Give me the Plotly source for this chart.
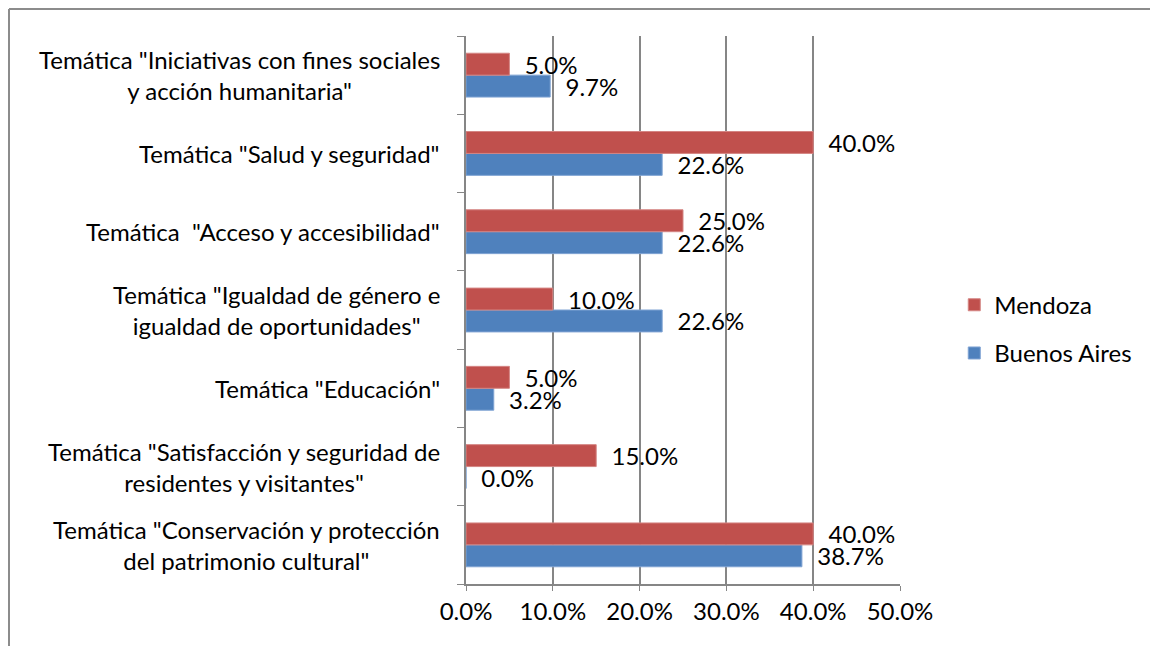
import plotly.graph_objects as go

# category order bottom -> top, as drawn on the y axis
CATEGORIES = [
    'Temática "Conservación y protección<br>del patrimonio cultural"',
    'Temática "Satisfacción y seguridad de<br>residentes y visitantes"',
    'Temática "Educación"',
    'Temática "Igualdad de género e<br>igualdad de oportunidades"',
    'Temática  "Acceso y accesibilidad"',
    'Temática "Salud y seguridad"',
    'Temática "Iniciativas con fines sociales<br>y acción humanitaria"',
]
BUENOS_AIRES = [0.387, 0.0, 0.032, 0.226, 0.226, 0.226, 0.097]
MENDOZA = [0.40, 0.15, 0.05, 0.10, 0.25, 0.40, 0.05]
X_TICKS = [0.0, 0.1, 0.2, 0.3, 0.4, 0.5]

RED = '#C0504D'
BLUE = '#4F81BD'
FONT = 'Lato'
FS = 24
PAD = '\u00a0' * 2

# the page body adds an 8px margin, so the figure is drawn 8px smaller
W, H = 1150, 638
L, R, T, B = 458, 258, 28, 62
PW, PH = W - L - R, H - T - B


def labels(values):
    return [f'{PAD}{v * 100:.1f}%' for v in values]


fig = go.Figure()
fig.add_trace(go.Bar(
    y=CATEGORIES, x=BUENOS_AIRES, orientation='h', name='Buenos Aires',
    marker=dict(color=BLUE, line=dict(color='#7fa3d3', width=1)),
    text=labels(BUENOS_AIRES), textposition='outside', cliponaxis=False,
    constraintext='none',
    textfont=dict(size=FS, color='black', family=FONT),
    legendgroup='ba', legendrank=2,
))
fig.add_trace(go.Bar(
    y=CATEGORIES, x=MENDOZA, orientation='h', name='Mendoza',
    marker=dict(color=RED, line=dict(color='#d48583', width=1)),
    text=labels(MENDOZA), textposition='outside', cliponaxis=False,
    constraintext='none',
    textfont=dict(size=FS, color='black', family=FONT),
    legendgroup='me', legendrank=1,
))

# category labels as annotations so multi-line text is centred
for cat in CATEGORIES:
    fig.add_annotation(
        text=cat, x=0, xref='paper', y=cat, yref='y', xanchor='right',
        xshift=-24, align='center', showarrow=False,
        font=dict(size=FS, color='black', family=FONT),
    )

# chart frame (left and top edges)
fx = (1 - L) / PW
fy = (PH + T - 1) / PH
fig.add_shape(type='line', xref='paper', yref='paper',
              x0=fx, x1=(W + 20 - L) / PW, y0=fy, y1=fy,
              line=dict(color='#8c8c8c', width=2))
fig.add_shape(type='line', xref='paper', yref='paper',
              x0=fx, x1=fx, y0=fy, y1=-(B + 20) / PH,
              line=dict(color='#8c8c8c', width=2))

fig.update_layout(
    width=W, height=H,
    margin=dict(l=L, r=R, t=T, b=B),
    paper_bgcolor='white', plot_bgcolor='white',
    barmode='group', bargap=0.44, bargroupgap=0,
    font=dict(family=FONT, size=FS, color='black'),
    showlegend=True,
    legend=dict(x=1.125, y=0.465, xanchor='left', yanchor='middle',
                traceorder='grouped', tracegroupgap=14,
                font=dict(size=FS, family=FONT, color='black'),
                itemwidth=30),
    xaxis=dict(
        range=[0, 0.5], tickvals=X_TICKS, tickformat='.1%',
        showgrid=True, gridcolor='#868686', gridwidth=1.5,
        showline=True, linecolor='#868686', linewidth=1.5,
        ticks='outside', ticklen=5, tickcolor='#868686',
        tickfont=dict(size=FS, family=FONT), zeroline=False,
    ),
    yaxis=dict(
        type='category', categoryorder='array', categoryarray=CATEGORIES,
        showticklabels=False, showgrid=False,
        showline=True, linecolor='#868686', linewidth=1.5,
        ticks='outside', ticklen=7, tickcolor='#868686', tickson='boundaries',
        range=[-0.5, len(CATEGORIES) - 0.5],
    ),
)

fig.write_html("out.html")
